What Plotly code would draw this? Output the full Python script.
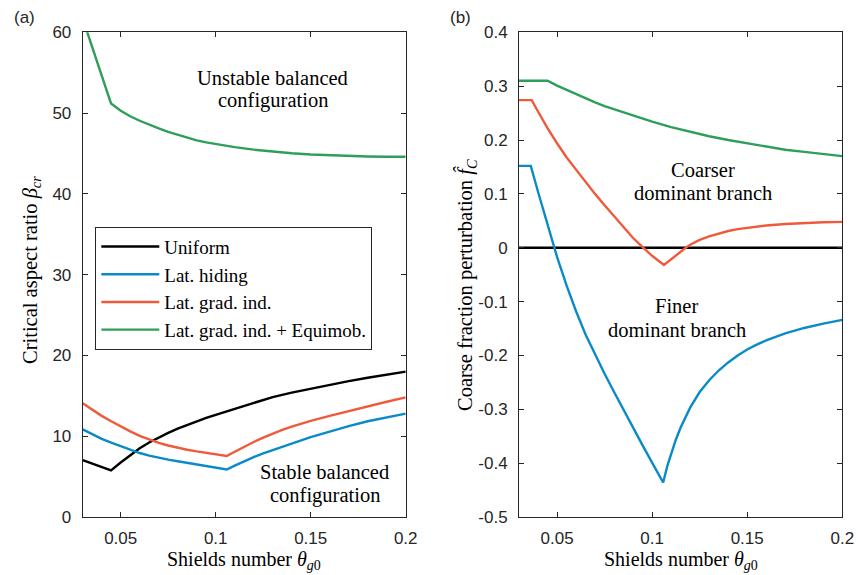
import plotly.graph_objects as go

# ---------------- data: panel (a) critical aspect ratio ----------------
theta_a_uniform = [0.03, 0.0375, 0.0449, 0.05, 0.055, 0.06, 0.065, 0.07, 0.075, 0.08,
                   0.085, 0.09, 0.095, 0.1, 0.105, 0.11, 0.115, 0.12, 0.125, 0.13,
                   0.14, 0.15, 0.16, 0.17, 0.18, 0.19, 0.2]
beta_uniform = [7.05, 6.42, 5.78, 6.75, 7.65, 8.5, 9.22, 9.85, 10.42, 10.95,
                11.42, 11.85, 12.26, 12.65, 13.03, 13.4, 13.8, 14.18, 14.52, 14.85,
                15.4, 15.9, 16.38, 16.82, 17.24, 17.63, 18.0]

theta_a_hiding = [0.03, 0.035, 0.04, 0.045, 0.05, 0.055, 0.06, 0.065, 0.07, 0.075, 0.08,
                  0.085, 0.09, 0.095, 0.1, 0.1058, 0.11, 0.115, 0.12, 0.125, 0.13, 0.135,
                  0.14, 0.145, 0.15, 0.16, 0.17, 0.18, 0.19, 0.2]
beta_hiding = [10.85, 10.22, 9.67, 9.2, 8.75, 8.3, 7.92, 7.6, 7.33, 7.1, 6.9,
               6.7, 6.5, 6.3, 6.11, 5.88, 6.35, 6.9, 7.42, 7.88, 8.3, 8.7,
               9.1, 9.5, 9.88, 10.6, 11.25, 11.85, 12.35, 12.8]

theta_a_grad = [0.03, 0.035, 0.04, 0.045, 0.05, 0.055, 0.06, 0.065, 0.07, 0.075, 0.08,
                0.085, 0.09, 0.095, 0.1, 0.1058, 0.11, 0.115, 0.12, 0.125, 0.13, 0.135,
                0.14, 0.145, 0.15, 0.16, 0.17, 0.18, 0.19, 0.2]
beta_grad = [14.07, 13.25, 12.52, 11.85, 11.2, 10.6, 10.05, 9.57, 9.17, 8.85, 8.57,
             8.33, 8.12, 7.92, 7.74, 7.55, 8.08, 8.7, 9.28, 9.82, 10.32, 10.78,
             11.2, 11.57, 11.9, 12.52, 13.12, 13.7, 14.27, 14.8]

theta_a_equi = [0.03, 0.0375, 0.0449, 0.05, 0.055, 0.06, 0.065, 0.07, 0.075, 0.08,
                0.085, 0.09, 0.095, 0.1, 0.11, 0.12, 0.13, 0.14, 0.15, 0.16,
                0.17, 0.18, 0.19, 0.2]
beta_equi = [61.7, 56.4, 51.2, 50.3, 49.6, 49.05, 48.55, 48.1, 47.68, 47.3,
             46.93, 46.62, 46.37, 46.15, 45.78, 45.47, 45.22, 45.02, 44.87, 44.76,
             44.68, 44.63, 44.6, 44.6]

# ---------------- data: panel (b) coarse fraction perturbation ----------------
theta_b_uniform = [0.03, 0.2]
fc_uniform = [0.0, 0.0]

theta_b_hiding = [0.03, 0.0362, 0.04, 0.045, 0.0484, 0.05, 0.055, 0.06, 0.065, 0.07,
                  0.075, 0.08, 0.085, 0.09, 0.095, 0.1, 0.1058, 0.108, 0.11, 0.1125,
                  0.115, 0.1175, 0.12, 0.125, 0.13, 0.135, 0.14, 0.145, 0.15, 0.155,
                  0.16, 0.17, 0.18, 0.19, 0.2]
fc_hiding = [0.152, 0.152, 0.104, 0.042, 0.0, -0.017, -0.07, -0.118, -0.161, -0.199,
             -0.234, -0.268, -0.302, -0.335, -0.367, -0.399, -0.436, -0.405, -0.382, -0.356,
             -0.334, -0.314, -0.297, -0.268, -0.246, -0.228, -0.213, -0.2, -0.189, -0.18,
             -0.172, -0.159, -0.149, -0.141, -0.134]

theta_b_grad = [0.03, 0.0367, 0.04, 0.045, 0.05, 0.055, 0.06, 0.065, 0.07, 0.075, 0.08,
                0.085, 0.09, 0.0953, 0.1, 0.1062, 0.11, 0.1125, 0.115, 0.1177, 0.12,
                0.1225, 0.125, 0.13, 0.135, 0.14, 0.145, 0.15, 0.16, 0.17, 0.18, 0.19, 0.2]
fc_grad = [0.274, 0.274, 0.253, 0.222, 0.194, 0.168, 0.145, 0.122, 0.1, 0.079, 0.058,
           0.038, 0.018, 0.0, -0.015, -0.032, -0.021, -0.0135, -0.007, 0.0, 0.0055,
           0.0105, 0.0145, 0.021, 0.0265, 0.031, 0.0345, 0.0372, 0.0413, 0.044, 0.046,
           0.0472, 0.048]

theta_b_equi = [0.03, 0.045, 0.05, 0.055, 0.06, 0.065, 0.07, 0.075, 0.08, 0.085, 0.09,
                0.095, 0.1, 0.11, 0.12, 0.13, 0.14, 0.15, 0.16, 0.17, 0.18, 0.19, 0.2]
fc_equi = [0.31, 0.31, 0.301, 0.293, 0.285, 0.277, 0.27, 0.263, 0.257, 0.251, 0.245,
           0.2395, 0.234, 0.224, 0.215, 0.207, 0.2, 0.194, 0.188, 0.182, 0.178, 0.174, 0.17]

# ---------------- labels and ticks ----------------
series_names = ["Uniform", "Lat. hiding", "Lat. grad. ind.", "Lat. grad. ind. + Equimob."]
series_colors = ["#000000", "#0A8BC7", "#EF5A3C", "#2E9E5B"]

x_tickvals = [0.05, 0.1, 0.15, 0.2]
x_ticktext = ["0.05", "0.1", "0.15", "0.2"]
ya_tickvals = [0, 10, 20, 30, 40, 50, 60]
ya_ticktext = ["0", "10", "20", "30", "40", "50", "60"]
yb_tickvals = [-0.5, -0.4, -0.3, -0.2, -0.1, 0, 0.1, 0.2, 0.3, 0.4]
yb_ticktext = ["-0.5", "-0.4", "-0.3", "-0.2", "-0.1", "0", "0.1", "0.2", "0.3", "0.4"]

# ---------------- figure ----------------
W, H = 858, 575
SERIF = "Liberation Serif"
SANS = "Liberation Sans"
AXC = "#262626"
LW = 2.4
TXT = 20.5

fig = go.Figure()

panel_a = [(theta_a_uniform, beta_uniform), (theta_a_hiding, beta_hiding),
           (theta_a_grad, beta_grad), (theta_a_equi, beta_equi)]
panel_b = [(theta_b_uniform, fc_uniform), (theta_b_hiding, fc_hiding),
           (theta_b_grad, fc_grad), (theta_b_equi, fc_equi)]

for (xs, ys), name, col in zip(panel_a, series_names, series_colors):
    fig.add_trace(go.Scatter(x=xs, y=ys, mode="lines", name=name,
                             line=dict(color=col, width=LW),
                             xaxis="x", yaxis="y", showlegend=True))

for (xs, ys), name, col in zip(panel_b, series_names, series_colors):
    fig.add_trace(go.Scatter(x=xs, y=ys, mode="lines", name=name,
                             line=dict(color=col, width=LW),
                             xaxis="x2", yaxis="y2", showlegend=False))


def px_x(p):
    return p / W


def px_y(p):
    return 1 - p / H


axis_common = dict(showline=True, linecolor=AXC, linewidth=1, mirror="ticks",
                   ticks="inside", ticklen=5, tickcolor=AXC, tickwidth=1,
                   showgrid=False, zeroline=False, automargin=False,
                   tickfont=dict(family=SANS, size=17, color=AXC))

fig.update_layout(
    width=W, height=H,
    margin=dict(l=0, r=0, t=0, b=0, autoexpand=False),
    paper_bgcolor="white", plot_bgcolor="white",
    xaxis=dict(domain=[px_x(82.7), px_x(405.7)], range=[0.03, 0.2],
               tickvals=x_tickvals, ticktext=x_ticktext, anchor="y",
               ticklabelstandoff=6, **axis_common),
    yaxis=dict(domain=[px_y(517), px_y(32.3)], range=[0, 60],
               tickvals=ya_tickvals, ticktext=ya_ticktext, anchor="x",
               ticklabelstandoff=7, **axis_common),
    xaxis2=dict(domain=[px_x(519), px_x(842.3)], range=[0.03, 0.2],
                tickvals=x_tickvals, ticktext=x_ticktext, anchor="y2",
                ticklabelstandoff=6, **axis_common),
    yaxis2=dict(domain=[px_y(517), px_y(32.3)], range=[-0.5, 0.4],
                tickvals=yb_tickvals, ticktext=yb_ticktext, anchor="x2",
                ticklabelstandoff=7, **axis_common),
    legend=dict(x=px_x(95.3), y=px_y(226.7), xanchor="left", yanchor="top",
                bgcolor="white", bordercolor=AXC, borderwidth=1,
                font=dict(family=SERIF, size=19, color="#000000"),
                tracegroupgap=0, itemwidth=58),
    showlegend=True,
)

annotations = []


def text(x, y, s, xref="paper", yref="paper", size=TXT, family=SERIF,
         angle=0, xanchor="center", yanchor="middle", color="#000000"):
    annotations.append(dict(x=x, y=y, xref=xref, yref=yref, text=s, showarrow=False,
                            textangle=angle, xanchor=xanchor, yanchor=yanchor,
                            font=dict(family=family, size=size, color=color)))


# panel tags
text(px_x(12), px_y(17.5), "(a)", family=SANS, size=17, xanchor="left", color=AXC)
text(px_x(448), px_y(17.5), "(b)", family=SANS, size=17, xanchor="left", color=AXC)

# axis titles
text(px_x(244.2), px_y(560), "Shields number <i>θ</i><sub><i>g</i>0</sub>", size=20)
text(px_x(680.7), px_y(560), "Shields number <i>θ</i><sub><i>g</i>0</sub>", size=20)
text(px_x(31), px_y(270), "Critical aspect ratio <i>β</i><sub><i>cr</i></sub>", angle=-90)
text(px_x(466), px_y(285), "Coarse fraction perturbation <i>f\u0302</i><sub><i>C</i></sub>",
     angle=-90)

# region labels, panel (a)
text(0.13, 54.4, "Unstable balanced", xref="x", yref="y")
text(0.13, 51.6, "configuration", xref="x", yref="y")
text(0.1575, 5.6, "Stable balanced", xref="x", yref="y")
text(0.1575, 2.72, "configuration", xref="x", yref="y")

# region labels, panel (b)
text(0.127, 0.1445, "Coarser", xref="x2", yref="y2")
text(0.127, 0.1012, "dominant branch", xref="x2", yref="y2")
text(0.1129, -0.1073, "Finer", xref="x2", yref="y2")
text(0.1129, -0.1524, "dominant branch", xref="x2", yref="y2")

fig.update_layout(annotations=annotations)

fig.write_html("out.html")
